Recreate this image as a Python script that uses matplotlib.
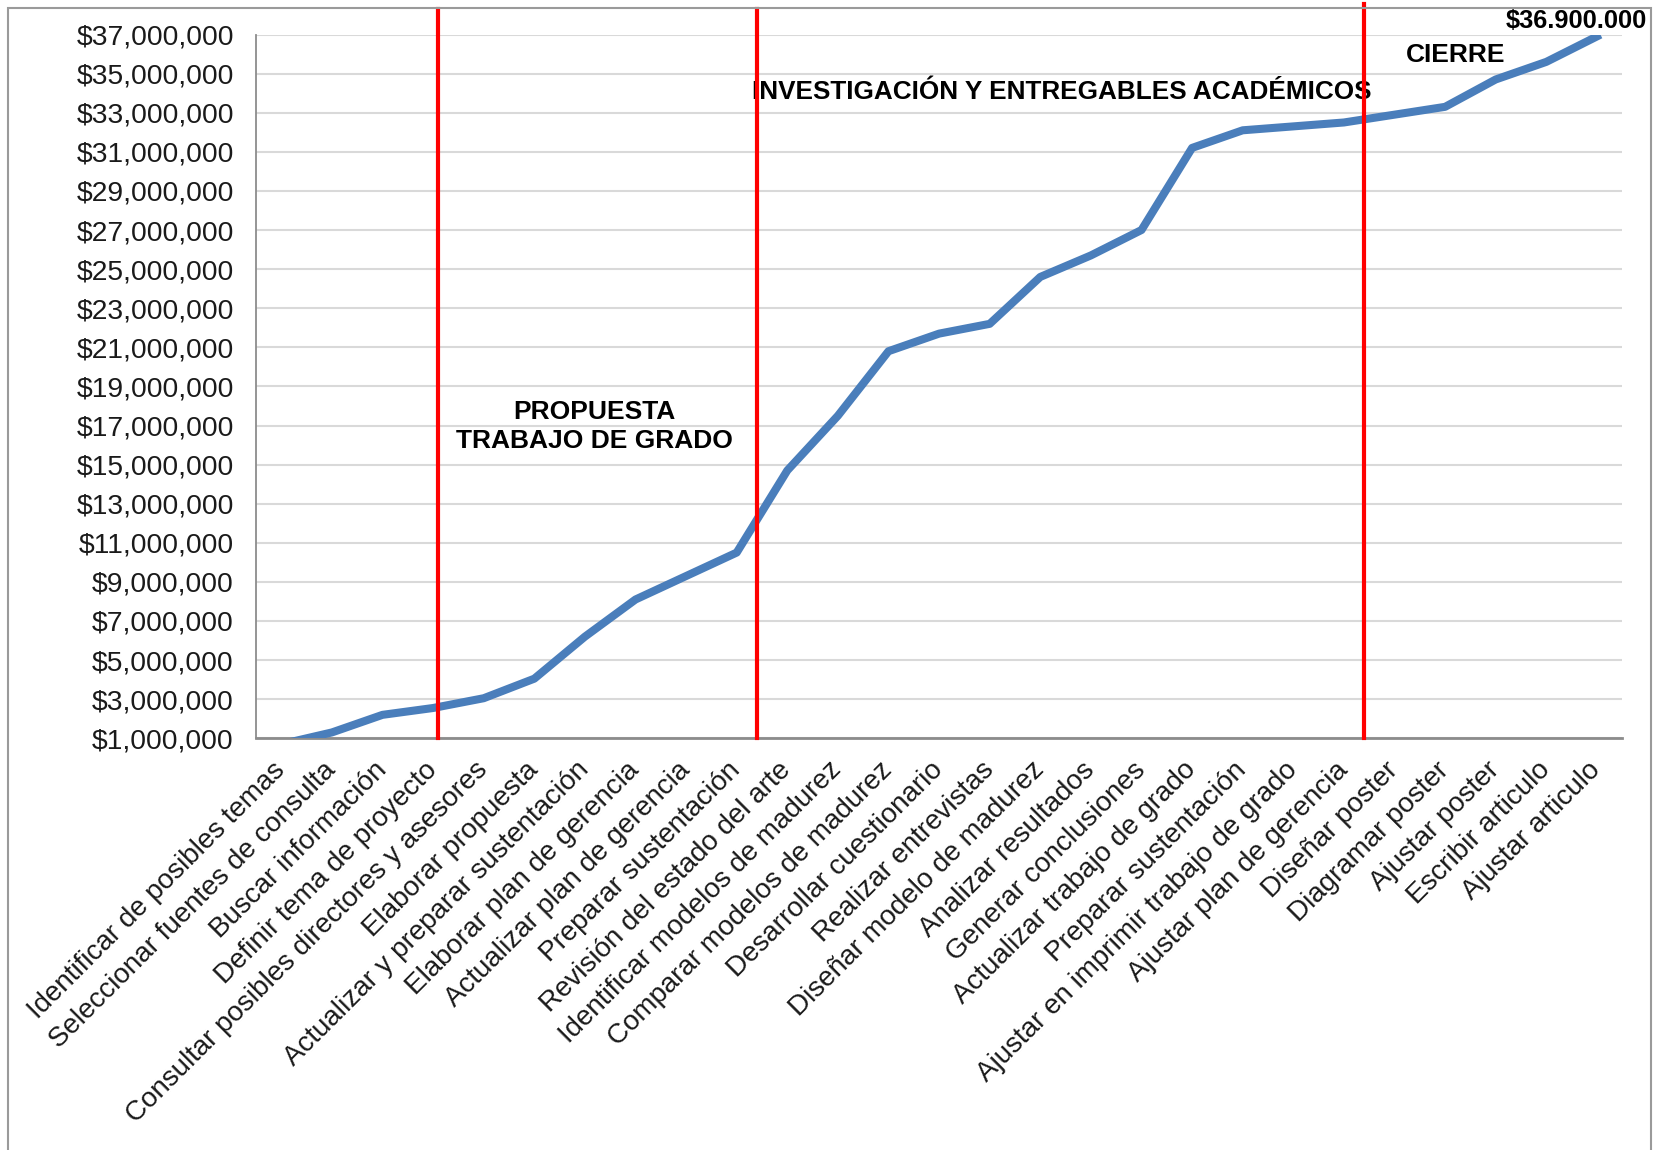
import numpy as np
import matplotlib
matplotlib.use('Agg')
import matplotlib.pyplot as plt
from matplotlib.ticker import FuncFormatter
from matplotlib.patches import Rectangle

plt.rcParams['font.family'] = ['Liberation Sans', 'DejaVu Sans']

activities = [
    'Identificar de posibles temas', 'Seleccionar fuentes de consulta',
    'Buscar información', 'Definir tema de proyecto',
    'Consultar posibles directores y asesores', 'Elaborar propuesta',
    'Actualizar y preparar sustentación', 'Elaborar plan de gerencia',
    'Actualizar plan de gerencia', 'Preparar sustentación',
    'Revisión del estado del arte', 'Identificar modelos de madurez',
    'Comparar modelos de madurez', 'Desarrollar cuestionario',
    'Realizar entrevistas', 'Diseñar modelo de madurez',
    'Analizar resultados', 'Generar conclusiones',
    'Actualizar trabajo de grado', 'Preparar sustentación',
    'Ajustar en imprimir trabajo de grado', 'Ajustar plan de gerencia',
    'Diseñar poster', 'Diagramar poster', 'Ajustar poster',
    'Escribir articulo', 'Ajustar articulo',
]

# cumulative cost, millions of pesos
cost_m = [0.7, 1.3, 2.2, 2.55, 3.05, 4.05, 6.2, 8.1, 9.3, 10.5,
          14.7, 17.5, 20.8, 21.7, 22.2, 24.6, 25.7, 27.0, 31.2, 32.1,
          32.3, 32.5, 32.9, 33.3, 34.7, 35.6, 36.9]

# phase separators (category position) and phase names
phase_breaks = [3.1, 9.4, 21.4]
phase_names = ['PROPUESTA\nTRABAJO DE GRADO',
               'INVESTIGACIÓN Y ENTREGABLES ACADÉMICOS', 'CIERRE']

fig = plt.figure(figsize=(16.57, 11.5), dpi=100)
ax = fig.add_axes([0.1545, 0.358, 0.979 - 0.1545, 0.970 - 0.358])

x = np.arange(len(activities))
cost = np.array(cost_m) * 1e6

ax.set_xlim(-0.5, len(activities) - 0.5)
ax.set_ylim(1e6, 37e6)
ax.set_yticks(np.arange(1e6, 37.1e6, 2e6))
ax.yaxis.set_major_formatter(FuncFormatter(lambda v, p: '${:,.0f}'.format(v)))
ax.grid(axis='y', color='#d9d9d9', linewidth=1.5)
ax.set_axisbelow(True)

for s in ['top', 'right']:
    ax.spines[s].set_visible(False)
ax.spines['left'].set_color('#8c8c8c')
ax.spines['bottom'].set_color('#8c8c8c')
ax.spines['left'].set_linewidth(1.3)
ax.spines['bottom'].set_linewidth(2)

ax.plot(x, cost, color='#4a7ebb', linewidth=5.8, solid_joinstyle='round', zorder=3)

ax.set_xticks(x)
ax.set_xticklabels(activities, rotation=45, ha='right', va='center',
                   rotation_mode='anchor', fontsize=20, color='#1a1a1a')
ax.tick_params(axis='x', length=0, pad=20)
ax.tick_params(axis='y', length=0, pad=16, labelsize=20.3, labelcolor='#1a1a1a')

tops = [1.036, 1.036, 1.043]
for xb, yt in zip(phase_breaks, tops):
    ax.axvline(xb, ymin=0, ymax=yt, color='#ff0000', linewidth=3, clip_on=False, zorder=4)

ax.text(6.18, 16.95e6, phase_names[0], ha='center', va='center', fontsize=19,
        fontweight='bold', linespacing=1.25)
ax.text(15.42, 34.08e6, phase_names[1], ha='center', va='center', fontsize=18.8,
        fontweight='bold')
ax.text(23.2, 35.97e6, phase_names[2], ha='center', va='center', fontsize=19,
        fontweight='bold')

ax.annotate('${:,.0f}'.format(cost[-1]).replace(',', '.'), xy=(x[-1], cost[-1]),
            xytext=(-15, 11), textcoords='offset points', ha='center', va='center',
            fontsize=18.3, fontweight='bold', annotation_clip=False)

fig.patches.append(Rectangle((8 / 1657, -0.01), (1651 - 8) / 1657, 1 - 8 / 1150 + 0.01,
                             transform=fig.transFigure, fill=False,
                             edgecolor='#9a9a9a', linewidth=1.5))

fig.savefig('out.png', dpi=100)
